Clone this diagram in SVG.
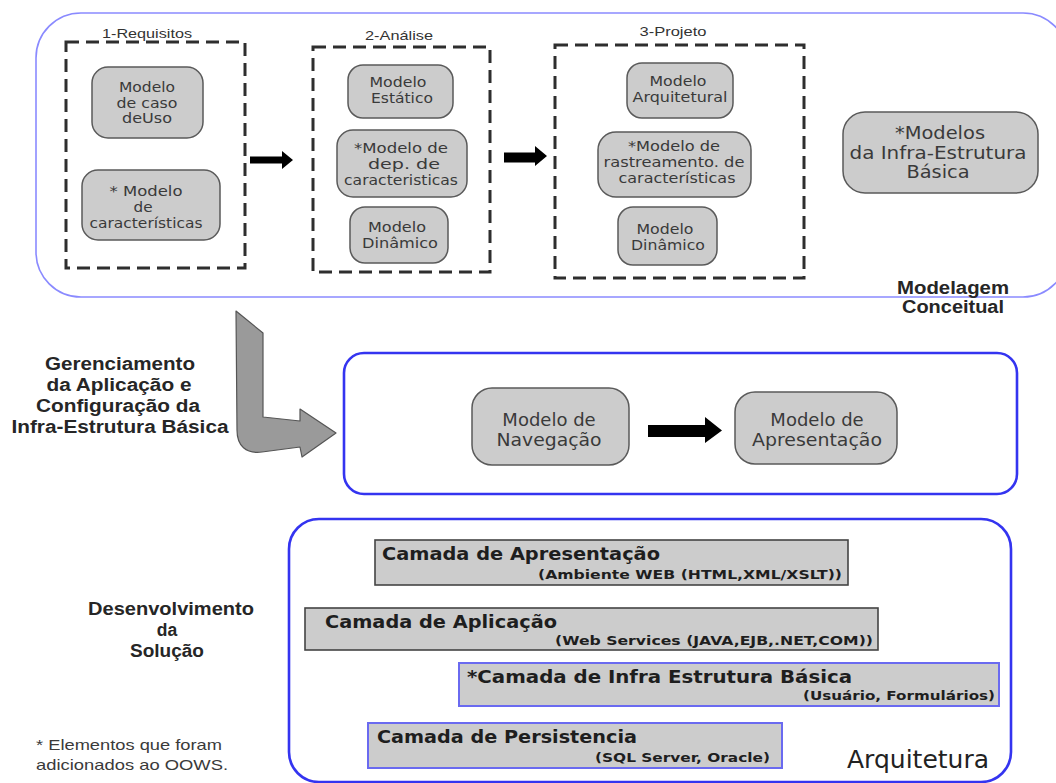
<svg xmlns="http://www.w3.org/2000/svg" width="1056" height="783" viewBox="0 0 1056 783">
  <style>
    .frame-soft { fill: #ffffff; stroke: #8a8aff; stroke-width: 1.6; }
    .frame { fill: #ffffff; stroke: #3434f0; stroke-width: 2.6; }
    .phase { fill: none; stroke: #2e2e2e; stroke-width: 3; stroke-dasharray: 13 7; }
    .node { fill: #cccccc; stroke: #5a5a5a; stroke-width: 1.5; }
    .layer { fill: #cccccc; stroke: #444444; stroke-width: 1.6; }
    .layer-new { fill: #cccccc; stroke: #6a6af0; stroke-width: 2; }
    .ntext { font-family: "DejaVu Sans", Verdana, sans-serif; font-size: 14px; fill: #3a3a3a; text-anchor: middle; }
    .ntext-l { font-family: "DejaVu Sans", Verdana, sans-serif; font-size: 18px; fill: #3a3a3a; text-anchor: middle; }
    .phase-label { font-family: "Liberation Sans", Arial, sans-serif; font-size: 13.5px; fill: #333333; text-anchor: middle; }
    .side { font-family: "Liberation Sans", Arial, sans-serif; font-weight: bold; font-size: 18px; fill: #262626; text-anchor: middle; }
    .ltitle { font-family: "DejaVu Sans", Verdana, sans-serif; font-weight: bold; font-size: 17px; fill: #1e1e1e; }
    .lsub { font-family: "DejaVu Sans", Verdana, sans-serif; font-weight: bold; font-size: 12.5px; fill: #1e1e1e; }
    .note { font-family: "Liberation Sans", Arial, sans-serif; font-size: 15px; fill: #3a3a3a; }
    .arch { font-family: "DejaVu Sans", Verdana, sans-serif; font-size: 24px; fill: #222222; }
    .block-arrow { fill: #000000; }
    .bend-arrow { fill: #9a9a9a; stroke: #555555; stroke-width: 1.2; stroke-linejoin: round; }
  </style>

  <rect width="1056" height="783" fill="#ffffff"/>

  <!-- Conceptual modelling frame -->
  <g id="modelagem-conceitual">
    <rect class="frame-soft" x="36" y="13" width="1032" height="284" rx="45" ry="45"/>
    <text class="side" x="953" y="294" textLength="112" lengthAdjust="spacingAndGlyphs">Modelagem</text>
    <text class="side" x="953" y="313" textLength="102" lengthAdjust="spacingAndGlyphs">Conceitual</text>
  </g>

  <!-- Phase 1: requirements -->
  <g id="fase-requisitos">
    <text class="phase-label" x="147" y="38" textLength="90" lengthAdjust="spacingAndGlyphs">1-Requisitos</text>
    <rect class="phase" x="66" y="42" width="179" height="226"/>
  </g>
  <g id="modelo-caso-uso">
    <rect class="node" x="92" y="67" width="111" height="71" rx="16"/>
    <text class="ntext" x="147" y="92" textLength="56" lengthAdjust="spacingAndGlyphs">Modelo</text>
    <text class="ntext" x="147" y="107.5" textLength="61" lengthAdjust="spacingAndGlyphs">de caso</text>
    <text class="ntext" x="147" y="123" textLength="50" lengthAdjust="spacingAndGlyphs">deUso</text>
  </g>
  <g id="modelo-caracteristicas">
    <rect class="node" x="82" y="170" width="138" height="70" rx="16"/>
    <text class="ntext" x="146" y="196" textLength="73" lengthAdjust="spacingAndGlyphs">* Modelo</text>
    <text class="ntext" x="143" y="212" textLength="19" lengthAdjust="spacingAndGlyphs">de</text>
    <text class="ntext" x="146" y="228" textLength="113" lengthAdjust="spacingAndGlyphs">características</text>
  </g>

  <!-- Phase 2: analysis -->
  <g id="fase-analise">
    <text class="phase-label" x="399" y="40" textLength="68" lengthAdjust="spacingAndGlyphs">2-Análise</text>
    <rect class="phase" x="313" y="47" width="177" height="225"/>
  </g>
  <g id="modelo-estatico">
    <rect class="node" x="348" y="65" width="105" height="53" rx="15"/>
    <text class="ntext" x="398" y="87" textLength="57" lengthAdjust="spacingAndGlyphs">Modelo</text>
    <text class="ntext" x="402" y="103" textLength="62" lengthAdjust="spacingAndGlyphs">Estático</text>
  </g>
  <g id="modelo-dependencia">
    <rect class="node" x="337" y="130" width="130" height="67" rx="16"/>
    <text class="ntext" x="401" y="153" textLength="94" lengthAdjust="spacingAndGlyphs">*Modelo de</text>
    <text class="ntext" x="404" y="169" textLength="72" lengthAdjust="spacingAndGlyphs">dep. de</text>
    <text class="ntext" x="401" y="185" textLength="114" lengthAdjust="spacingAndGlyphs">caracteristicas</text>
  </g>
  <g id="modelo-dinamico-analise">
    <rect class="node" x="350" y="207" width="98" height="56" rx="15"/>
    <text class="ntext" x="397" y="232" textLength="58" lengthAdjust="spacingAndGlyphs">Modelo</text>
    <text class="ntext" x="400" y="248" textLength="76" lengthAdjust="spacingAndGlyphs">Dinâmico</text>
  </g>

  <!-- Phase 3: design -->
  <g id="fase-projeto">
    <text class="phase-label" x="673" y="36" textLength="67" lengthAdjust="spacingAndGlyphs">3-Projeto</text>
    <rect class="phase" x="555" y="45" width="249" height="233"/>
  </g>
  <g id="modelo-arquitetural">
    <rect class="node" x="627" y="63" width="106" height="55" rx="15"/>
    <text class="ntext" x="678" y="86" textLength="57" lengthAdjust="spacingAndGlyphs">Modelo</text>
    <text class="ntext" x="680" y="102" textLength="95" lengthAdjust="spacingAndGlyphs">Arquitetural</text>
  </g>
  <g id="modelo-rastreamento">
    <rect class="node" x="598" y="132" width="153" height="65" rx="18"/>
    <text class="ntext" x="674" y="151" textLength="92" lengthAdjust="spacingAndGlyphs">*Modelo de</text>
    <text class="ntext" x="674" y="167" textLength="141" lengthAdjust="spacingAndGlyphs">rastreamento. de</text>
    <text class="ntext" x="677" y="183" textLength="117" lengthAdjust="spacingAndGlyphs">características</text>
  </g>
  <g id="modelo-dinamico-projeto">
    <rect class="node" x="618" y="207" width="99" height="58" rx="15"/>
    <text class="ntext" x="665" y="234" textLength="57" lengthAdjust="spacingAndGlyphs">Modelo</text>
    <text class="ntext" x="668" y="250" textLength="74" lengthAdjust="spacingAndGlyphs">Dinâmico</text>
  </g>

  <g id="modelos-infra-estrutura">
    <rect class="node" x="843" y="112" width="195" height="81" rx="22"/>
    <text class="ntext-l" x="940" y="139" textLength="90" lengthAdjust="spacingAndGlyphs">*Modelos</text>
    <text class="ntext-l" x="938" y="158.5" textLength="177" lengthAdjust="spacingAndGlyphs">da Infra-Estrutura</text>
    <text class="ntext-l" x="938" y="178" textLength="63" lengthAdjust="spacingAndGlyphs">Básica</text>
  </g>

  <!-- Management label -->
  <g id="gerenciamento">
    <text class="side" x="120" y="370" textLength="150" lengthAdjust="spacingAndGlyphs">Gerenciamento</text>
    <text class="side" x="119" y="391" textLength="145" lengthAdjust="spacingAndGlyphs">da Aplicação e</text>
    <text class="side" x="118" y="412" textLength="164" lengthAdjust="spacingAndGlyphs">Configuração da</text>
    <text class="side" x="120" y="433" textLength="217" lengthAdjust="spacingAndGlyphs">Infra-Estrutura Básica</text>
  </g>

  <!-- Navigation / presentation frame -->
  <g id="modelagem-interface">
    <rect class="frame" x="344" y="353" width="673" height="141" rx="20" ry="20"/>
  </g>
  <g id="modelo-navegacao">
    <rect class="node" x="472" y="388" width="157" height="77" rx="20"/>
    <text class="ntext-l" x="549" y="426">Modelo de</text>
    <text class="ntext-l" x="549" y="446" textLength="105" lengthAdjust="spacingAndGlyphs">Navegação</text>
  </g>
  <g id="modelo-apresentacao">
    <rect class="node" x="735" y="392" width="162" height="72" rx="20"/>
    <text class="ntext-l" x="817" y="426">Modelo de</text>
    <text class="ntext-l" x="817" y="446" textLength="130" lengthAdjust="spacingAndGlyphs">Apresentação</text>
  </g>

  <!-- Architecture frame -->
  <g id="arquitetura">
    <rect class="frame" x="289" y="519" width="722" height="263" rx="30" ry="30"/>
    <text class="arch" x="847" y="768" textLength="142" lengthAdjust="spacingAndGlyphs">Arquitetura</text>
  </g>

  <g id="camada-apresentacao">
    <rect class="layer" x="375" y="540" width="473" height="45"/>
    <text class="ltitle" x="382" y="560" textLength="278" lengthAdjust="spacingAndGlyphs">Camada de Apresentação</text>
    <text class="lsub" x="538" y="579" textLength="304" lengthAdjust="spacingAndGlyphs">(Ambiente WEB (HTML,XML/XSLT))</text>
  </g>
  <g id="camada-aplicacao">
    <rect class="layer" x="305" y="608" width="573" height="42"/>
    <text class="ltitle" x="325" y="628" textLength="232" lengthAdjust="spacingAndGlyphs">Camada de Aplicação</text>
    <text class="lsub" x="555" y="645" textLength="318" lengthAdjust="spacingAndGlyphs">(Web Services (JAVA,EJB,.NET,COM))</text>
  </g>
  <g id="camada-infra-estrutura">
    <rect class="layer-new" x="459" y="663" width="540" height="43"/>
    <text class="ltitle" x="467" y="683" textLength="385" lengthAdjust="spacingAndGlyphs">*Camada de Infra Estrutura Básica</text>
    <text class="lsub" x="803" y="700" textLength="192" lengthAdjust="spacingAndGlyphs">(Usuário, Formulários)</text>
  </g>
  <g id="camada-persistencia">
    <rect class="layer-new" x="368" y="723" width="414" height="45"/>
    <text class="ltitle" x="377" y="743" textLength="260" lengthAdjust="spacingAndGlyphs">Camada de Persistencia</text>
    <text class="lsub" x="595" y="762" textLength="175" lengthAdjust="spacingAndGlyphs">(SQL Server, Oracle)</text>
  </g>

  <!-- Development label and footnote -->
  <g id="desenvolvimento">
    <text class="side" x="171" y="615" style="font-size:17.5px" textLength="166" lengthAdjust="spacingAndGlyphs">Desenvolvimento</text>
    <text class="side" x="167" y="636" style="font-size:17.5px">da</text>
    <text class="side" x="167" y="657" style="font-size:17.5px" textLength="74" lengthAdjust="spacingAndGlyphs">Solução</text>
  </g>
  <g id="nota">
    <text class="note" x="36" y="750" textLength="186" lengthAdjust="spacingAndGlyphs">* Elementos que foram</text>
    <text class="note" x="36" y="770" textLength="192" lengthAdjust="spacingAndGlyphs">adicionados ao OOWS.</text>
  </g>

  <!-- Connectors -->
  <g id="conectores">
    <polygon class="block-arrow" points="250,156.5 282,156.5 282,151 293,160 282,169 282,163.5 250,163.5"/>
    <polygon class="block-arrow" points="504,152.5 535,152.5 535,146 547,156 535,166 535,162.5 504,162.5"/>
    <polygon class="block-arrow" points="648,425 705,425 705,417 722,430.5 705,443 705,437 648,437"/>
    <path class="bend-arrow" d="M236,311 L263,333 L263,417 L300,421 L300,409 L336,433 L302,457 L300,447 L262,452 C246,454 237,446 237,430 Z"/>
  </g>
</svg>
